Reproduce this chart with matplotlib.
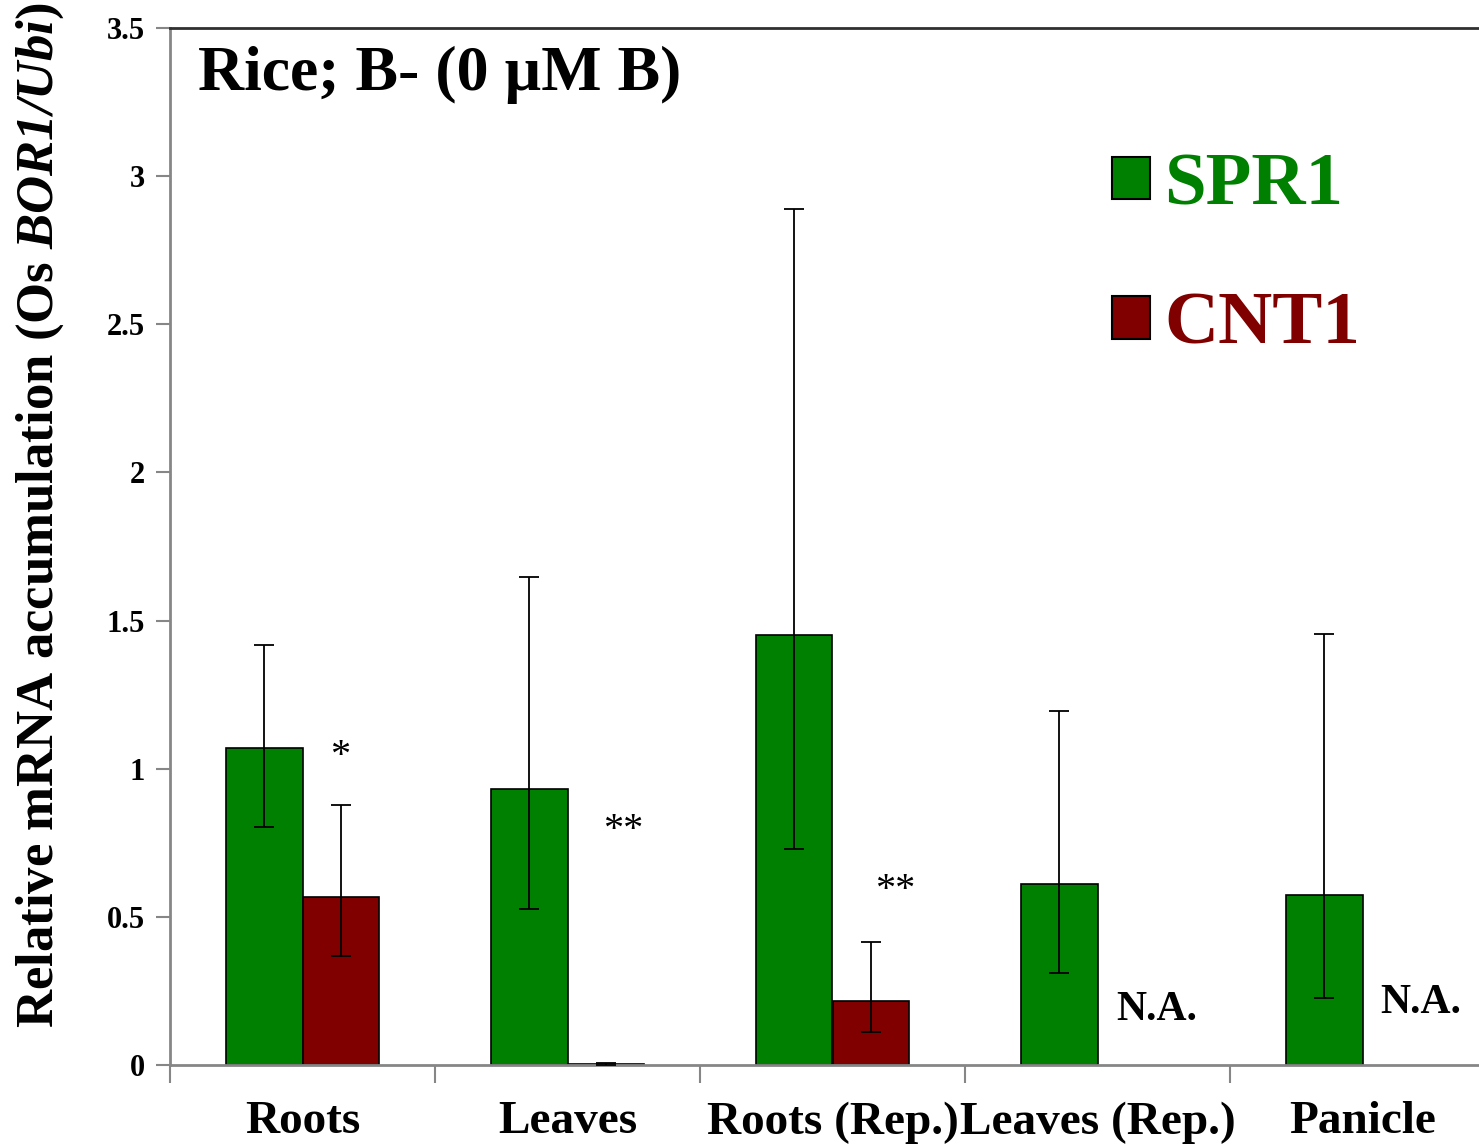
import matplotlib.pyplot as plt
import numpy as np
from matplotlib.patches import Patch

plt.rcParams['font.family'] = 'Liberation Serif'
plt.rcParams['mathtext.fontset'] = 'custom'
plt.rcParams['mathtext.rm'] = 'Liberation Serif:bold'
plt.rcParams['mathtext.bfit'] = 'Liberation Serif:italic:bold'
plt.rcParams['mathtext.it'] = 'Liberation Serif:italic:bold'

# --- données ---
categories = ['Roots', 'Leaves', 'Roots (Rep.)', 'Leaves (Rep.)', 'Panicle']
spr1 = [1.07, 0.93, 1.45, 0.61, 0.575]
spr1_err_bas = [0.267, 0.405, 0.72, 0.30, 0.35]
spr1_err_haut = [0.347, 0.716, 1.44, 0.585, 0.88]
cnt1 = [0.567, 0.004, 0.216, np.nan, np.nan]
cnt1_err_bas = [0.20, 0.003, 0.105, np.nan, np.nan]
cnt1_err_haut = [0.31, 0.004, 0.20, np.nan, np.nan]
marques = ['*', '**', '**', 'N.A.', 'N.A.']
yticks = [0, 0.5, 1, 1.5, 2, 2.5, 3, 3.5]
ytick_labels = ['0', '0.5', '1', '1.5', '2', '2.5', '3', '3.5']

vert = '#008000'
rouge = '#800000'
gris = '#868686'

fig = plt.figure(figsize=(14.79, 11.46), dpi=100)
ax = fig.add_axes([170 / 1479, 81 / 1146, 1325 / 1479, 1037 / 1146])

x = np.arange(len(categories))
w = 0.287
ax.bar(x - w / 2, spr1, w, color=vert, edgecolor='black', linewidth=1.2, zorder=2)
ax.bar(x + w / 2, cnt1, w, color=rouge, edgecolor='black', linewidth=1.2, zorder=2)
ax.errorbar(x - w / 2, spr1, yerr=[spr1_err_bas, spr1_err_haut], fmt='none',
            ecolor='black', elinewidth=1.3, capsize=7, capthick=1.3, zorder=3)
ax.errorbar(x + w / 2, cnt1, yerr=[cnt1_err_bas, cnt1_err_haut], fmt='none',
            ecolor='black', elinewidth=1.3, capsize=7, capthick=1.3, zorder=3)

# annotations (étoiles, N.A.)
pos_marques = [(0.143, 1.07), (1.209, 0.82), (2.236, 0.62), (3.224, 0.185), (4.221, 0.21)]
for (mx, my), txt in zip(pos_marques, marques):
    if txt.startswith('N'):
        ax.text(mx, my, txt, fontsize=30, fontweight='bold', ha='center', va='center')
    else:
        ax.text(mx, my - 0.03, txt, fontsize=29, ha='center', va='center')

ax.set_xlim(-0.5, 4.5)
ax.set_ylim(0, 3.5)

ax.set_yticks(yticks)
ax.set_yticklabels(ytick_labels, fontsize=22, fontweight='bold')
ax.tick_params(axis='y', direction='out', length=10, color=gris, width=1.5, pad=8)

ax.set_xticks(x)
ax.set_xticklabels(categories, fontsize=34, fontweight='bold')
ax.tick_params(axis='x', which='major', length=0, pad=26)
ax.set_xticks(np.arange(-0.5, 5, 1), minor=True)
ax.tick_params(axis='x', which='minor', direction='out', length=13, color=gris, width=1.5)

for s in ['left', 'bottom']:
    ax.spines[s].set_color(gris)
    ax.spines[s].set_linewidth(2)
ax.spines['top'].set_color('#303030')
ax.spines['top'].set_linewidth(2)
ax.spines['right'].set_visible(False)

# titre dans le graphe
ax.text(0.021, 0.955, 'Rice; B- (0 µM B)', transform=ax.transAxes, fontsize=46,
        fontweight='bold', ha='left', va='center')

# légende
poignees = [Patch(facecolor=vert, edgecolor='black', linewidth=1.5),
            Patch(facecolor=rouge, edgecolor='black', linewidth=1.5)]
leg = ax.legend(poignees, ['SPR1', 'CNT1'], loc='upper left',
                bbox_to_anchor=(0.66, 0.945), frameon=False,
                prop={'size': 54, 'weight': 'bold'},
                handlelength=0.5, handleheight=0.5, handletextpad=0.2,
                labelspacing=0.95, labelcolor=[vert, rouge])

# étiquette de l'axe y
fig.text(40 / 1479, 0.55, r'Relative mRNA accumulation (Os $\mathbfit{BOR1/Ubi}$)',
         rotation=90, fontsize=38, fontweight='bold', ha='center', va='center')

fig.savefig('out.png', dpi=100)
